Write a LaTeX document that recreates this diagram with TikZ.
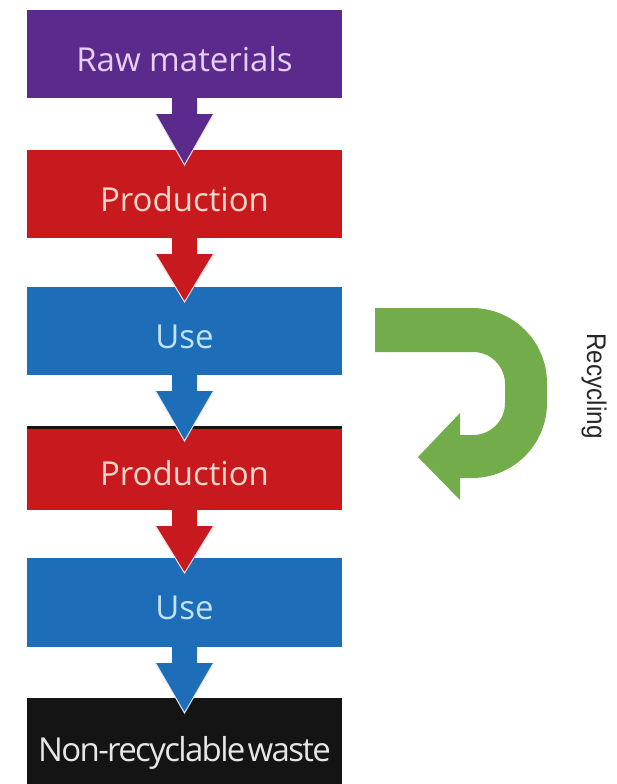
\documentclass[tikz,border=0pt]{standalone}
\usepackage{fontspec}
\setmainfont{Open Sans}
\newfontfamily\recfont{Liberation Sans}
\newfontfamily\wastefont{Open Sans}[LetterSpace=-5,WordSpace=0.3]
\usetikzlibrary{calc}
\definecolor{cPurple}{HTML}{5A2A8C}
\definecolor{cRed}{HTML}{C8191E}
\definecolor{cBlue}{HTML}{1E6DB9}
\definecolor{cGreen}{HTML}{72AC4B}
\definecolor{cBlack}{HTML}{141414}
\definecolor{tPurple}{HTML}{E6CFF2}
\definecolor{tRed}{HTML}{F9D6C8}
\definecolor{tBlue}{HTML}{BFE3F8}
\definecolor{tBlack}{HTML}{E6E6E6}
\newcommand\flowarrow[3]{%
  \fill[#3] ($(#1.south)+(-12.5,-2)$) -- ($(#1.south)+(-12.5,16)$) -- ($(#1.south)+(-29,16)$)
    -- ($(#2.north)+(0,15)$) -- ($(#1.south)+(29,16)$) -- ($(#1.south)+(12.5,16)$)
    -- ($(#1.south)+(12.5,-2)$) -- cycle;
  \draw[white!85!#3, line width=1pt, line join=miter]
    ($(#1.south)+(-29,16)$) -- ($(#2.north)+(0,15)$) -- ($(#1.south)+(29,16)$);
}
\begin{document}
\begin{tikzpicture}[x=1pt,y=-1pt,
  box/.style={minimum width=315pt, inner sep=0pt, outer sep=0pt,
    font=\fontsize{33}{36}\selectfont, text height=34pt, text depth=0pt}]
\useasboundingbox (0,0) rectangle (616,784);
\begin{scope}
\clip (0,0) rectangle (616,784);
\node[box, fill=cPurple, text=tPurple, minimum height=88pt] (raw) at (184.5,54) {Raw materials};
\node[box, fill=cRed, text=tRed, minimum height=88pt] (prod1) at (184.5,194) {Production};
\node[box, fill=cBlue, text=tBlue, minimum height=88pt] (use1) at (184.5,331) {Use};
\node[box, fill=cRed, text=tRed, minimum height=84pt] (prod2) at (184.5,468) {Production};
\draw[cBlack, line width=3pt] (prod2.north west) ++(0,1.5) -- ($(prod2.north east)+(0,1.5)$);
\node[box, fill=cBlue, text=tBlue, minimum height=89pt] (use2) at (184.5,602.5) {Use};
\node[box, fill=cBlack, text=tBlack, minimum height=96pt, text height=30pt,
  font=\wastefont\fontsize{33}{36}\selectfont] (waste) at (184.5,746) {Non-recyclable waste};
\flowarrow{raw}{prod1}{cPurple}
\flowarrow{prod1}{use1}{cRed}
\flowarrow{use1}{prod2}{cBlue}
\flowarrow{prod2}{use2}{cRed}
\flowarrow{use2}{waste}{cBlue}
\end{scope}
% recycling arrow
\fill[cGreen] (375,308) -- (472,308) .. controls (513.4,308) and (547,341.6) .. (547,383)
  -- (547,403) .. controls (547,444.4) and (513.4,478) .. (472,478) -- (460,478)
  -- (460,500) -- (418,457) -- (460,413) -- (460,435) -- (473,435)
  .. controls (490.7,435) and (505,420.7) .. (505,403) -- (505,384)
  .. controls (505,366.3) and (490.7,352) .. (473,352) -- (375,352) -- cycle;
\node[rotate=-90, text=black!85, font=\recfont\fontsize{27}{30}\selectfont, xscale=0.9, inner sep=0pt] (rec) at (594,386) {Recycling};
\end{tikzpicture}
\end{document}
